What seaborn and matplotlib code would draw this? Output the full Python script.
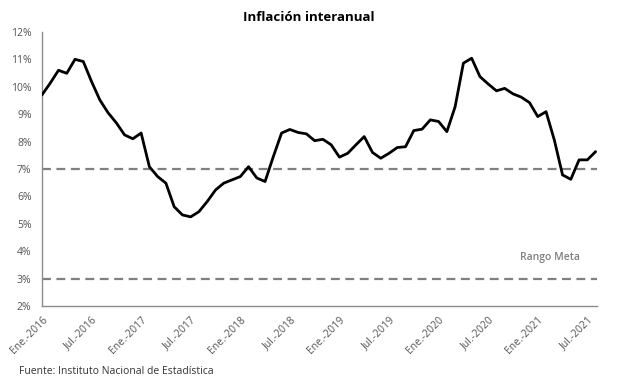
import pandas as pd
import matplotlib.pyplot as plt
import seaborn as sns

# Monthly year-over-year inflation, Ene-2016 .. Ago-2021 (%)
months = pd.date_range('2016-01-01', '2021-08-01', freq='MS')
inflation = [
    9.70, 10.13, 10.60, 10.49, 11.00, 10.92, 10.19, 9.52, 9.05, 8.68, 8.24, 8.10,
    8.31, 7.08, 6.72, 6.48, 5.62, 5.32, 5.25, 5.44, 5.81, 6.23, 6.48, 6.60,
    6.72, 7.08, 6.67, 6.54, 7.45, 8.31, 8.44, 8.33, 8.28, 8.03, 8.08, 7.88,
    7.43, 7.57, 7.88, 8.18, 7.60, 7.39, 7.57, 7.78, 7.81, 8.40, 8.45, 8.79,
    8.73, 8.36, 9.27, 10.86, 11.04, 10.37, 10.10, 9.85, 9.94, 9.74, 9.62, 9.42,
    8.91, 9.09, 8.06, 6.78, 6.62, 7.33, 7.33, 7.63,
]
target_range = [3, 7]
month_names = {1: 'Ene.', 7: 'Jul.'}

df = pd.DataFrame({'t': range(len(months)), 'inflacion': inflation})
tick_pos = [i for i, d in enumerate(months) if d.month in month_names]
tick_labels = [f"{month_names[months[i].month]}-{months[i].year}" for i in tick_pos]

sns.set_style('white')
plt.rcParams['font.family'] = ['Open Sans', 'DejaVu Sans']

fig, ax = plt.subplots(figsize=(6.17, 3.80), dpi=100)
fig.subplots_adjust(left=0.068, right=0.968, top=0.916, bottom=0.195)

for lvl in target_range:
    ax.axhline(lvl, color='#808080', linestyle=(0, (4, 2.5)), linewidth=1.6, zorder=1)

sns.lineplot(data=df, x='t', y='inflacion', color='black', linewidth=2,
             ax=ax, zorder=3)
ax.lines[-1].set_solid_joinstyle('round')

ax.set_xlim(0, 67.2)
ax.set_ylim(2, 12)
ax.set_yticks(range(2, 13))
ax.set_yticklabels([f'{v}%' for v in range(2, 13)])
ax.set_xticks(tick_pos)
ax.set_xticklabels(tick_labels, rotation=45, ha='right', rotation_mode='anchor')
ax.set_xlabel('')
ax.set_ylabel('')

for side in ['top', 'right']:
    ax.spines[side].set_visible(False)
for side in ['left', 'bottom']:
    ax.spines[side].set_color('#8c8c8c')
    ax.spines[side].set_linewidth(1)
ax.tick_params(axis='both', colors='#8c8c8c', labelcolor='#555555',
               labelsize=7.5, length=4, width=1, direction='out')
ax.tick_params(axis='x', pad=2)

ax.text(61.5, 3.75, 'Rango Meta', color='#7f7f7f', fontsize=7.5,
        fontweight='semibold', ha='center', va='center')

fig.text(0.5, 0.955, 'Inflación interanual', ha='center', va='center',
         fontsize=9.5, fontweight='bold', color='black')
fig.text(0.03, 0.022, 'Fuente: Instituto Nacional de Estadística', ha='left',
         va='center', fontsize=7.5, color='#333333')

plt.savefig('out.png', dpi=100)
